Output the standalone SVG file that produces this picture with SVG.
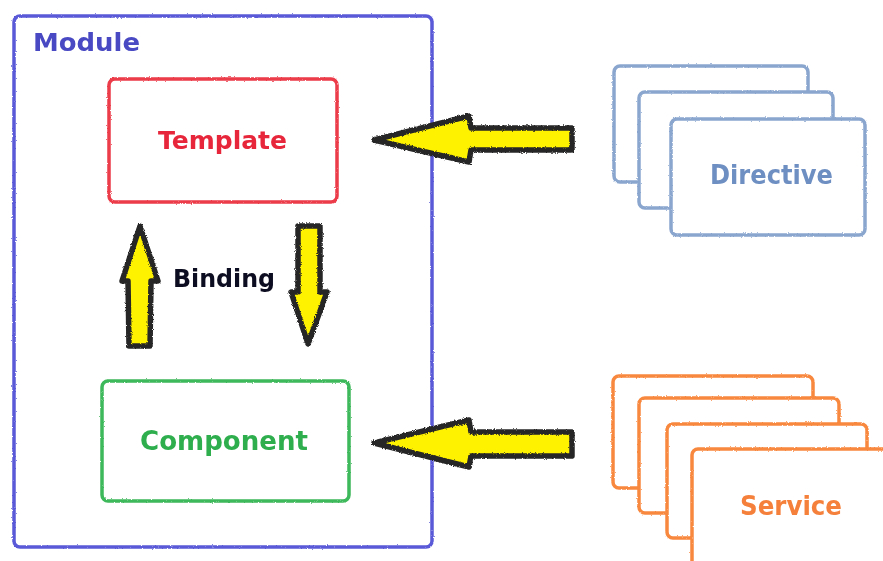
<svg xmlns="http://www.w3.org/2000/svg" width="883" height="561" viewBox="0 0 883 561">
  <defs>
    <!-- crayon-like roughness for outlines -->
    <filter id="rough" x="-5%" y="-5%" width="110%" height="110%">
      <feTurbulence type="fractalNoise" baseFrequency="0.8" numOctaves="2" seed="3" result="noise"/>
      <feDisplacementMap in="SourceGraphic" in2="noise" scale="2.2" xChannelSelector="R" yChannelSelector="G" result="disp"/>
      <feGaussianBlur in="disp" stdDeviation="0.5"/>
    </filter>
    <!-- heavier chalky edge for the block arrows -->
    <filter id="chalk" x="-10%" y="-10%" width="120%" height="120%">
      <feTurbulence type="fractalNoise" baseFrequency="1.1" numOctaves="2" seed="7" result="noise"/>
      <feDisplacementMap in="SourceGraphic" in2="noise" scale="3" xChannelSelector="R" yChannelSelector="G" result="disp"/>
      <feGaussianBlur in="disp" stdDeviation="0.7"/>
    </filter>
    <filter id="soft">
      <feGaussianBlur stdDeviation="0.35"/>
    </filter>
  </defs>
  <style>
    .label { font-family: "DejaVu Sans", "Liberation Sans", sans-serif; font-weight: bold; }
    .box { fill: #ffffff; stroke-width: 3.5; filter: url(#rough); }
    .module { fill: none; stroke: #5a5ad8; }
    .template { stroke: #ec3a4a; }
    .component { stroke: #3cb85a; }
    .directive { stroke: #8aa5ce; }
    .service { stroke: #f7883e; }
    .arrow { fill: #fff200; stroke: #262626; stroke-width: 5.5; stroke-linejoin: round; filter: url(#chalk); }
  </style>

  <rect width="883" height="561" fill="#ffffff"/>

  <g id="module">
    <rect class="box module" x="14" y="16" width="418" height="531" rx="6"/>
    <text class="label" x="33" y="51" font-size="25" fill="#4848c4" textLength="107" lengthAdjust="spacingAndGlyphs" filter="url(#soft)">Module</text>
  </g>

  <g id="template">
    <rect class="box template" x="109" y="79" width="228" height="123" rx="6"/>
    <text class="label" x="158" y="149" font-size="25" fill="#e8263a" textLength="129" lengthAdjust="spacingAndGlyphs" filter="url(#soft)">Template</text>
  </g>

  <g id="component">
    <rect class="box component" x="102" y="381" width="247" height="120" rx="6"/>
    <text class="label" x="140" y="450" font-size="26" fill="#2eae4e" textLength="168" lengthAdjust="spacingAndGlyphs" filter="url(#soft)">Component</text>
  </g>

  <g id="binding">
    <text class="label" x="173" y="287" font-size="25" fill="#111122" textLength="102" lengthAdjust="spacingAndGlyphs" filter="url(#soft)">Binding</text>
  </g>

  <g id="directive">
    <rect class="box directive" x="614" y="66" width="194" height="116" rx="6"/>
    <rect class="box directive" x="639" y="92" width="194" height="116" rx="6"/>
    <rect class="box directive" x="671" y="119" width="194" height="116" rx="6"/>
    <text class="label" x="710" y="184" font-size="27" fill="#6e8fc2" textLength="123" lengthAdjust="spacingAndGlyphs" filter="url(#soft)">Directive</text>
  </g>

  <g id="service">
    <rect class="box service" x="613" y="376" width="200" height="112" rx="6"/>
    <rect class="box service" x="639" y="398" width="200" height="115" rx="6"/>
    <rect class="box service" x="667" y="424" width="200" height="114" rx="6"/>
    <rect class="box service" x="692" y="449" width="220" height="140" rx="6"/>
    <text class="label" x="740" y="515" font-size="26" fill="#f5803a" textLength="102" lengthAdjust="spacingAndGlyphs" filter="url(#soft)">Service</text>
  </g>

  <g id="connectors">
    <!-- Directive -> Template -->
    <polygon class="arrow" points="572,128 471,128 469,116 374,140 469,162 471,150 572,150"/>
    <!-- Service -> Component -->
    <polygon class="arrow" points="572,432 471,432 469,420 374,443 469,467 471,456 572,456"/>
    <!-- Component -> Template (binding up) -->
    <polygon class="arrow" points="129,346 128,281 122,281 140,226 158,281 151,281 150,346"/>
    <!-- Template -> Component (binding down) -->
    <polygon class="arrow" points="298,226 320,226 320,292 327,292 308,344 291,292 298,292"/>
  </g>
</svg>
